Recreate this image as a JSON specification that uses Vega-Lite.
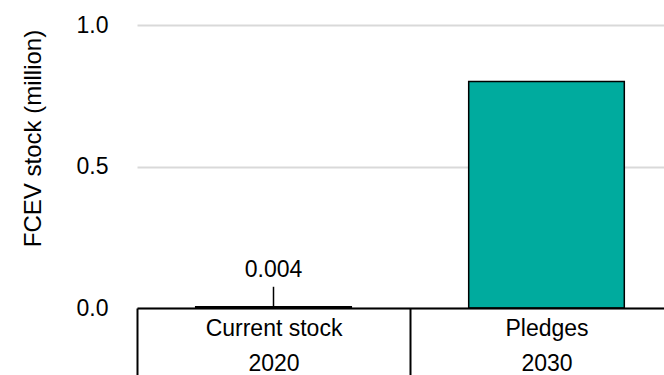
{
  "$schema": "https://vega.github.io/schema/vega-lite/v6.json",
  "width": 546,
  "height": 283,
  "autosize": {"type": "none"},
  "padding": {"left": 137, "top": 25, "right": 0, "bottom": 67},
  "background": "white",
  "config": {"view": {"stroke": null}, "font": "Liberation Sans"},
  "data": {
    "values": [
      {"period": "Current stock|2020", "value": 0.004, "note": "0.004"},
      {"period": "Pledges|2030", "value": 0.8}
    ]
  },
  "encoding": {
    "x": {
      "field": "period",
      "type": "nominal",
      "sort": null,
      "scale": {"paddingInner": 0, "paddingOuter": 0},
      "axis": {
        "title": null,
        "labelAngle": 0,
        "labelExpr": "split(datum.label, '|')",
        "labelFontSize": 23,
        "labelColor": "black",
        "labelLineHeight": 35,
        "labelBaseline": "top",
        "labelPadding": -61,
        "domainColor": "black",
        "domainWidth": 2,
        "ticks": true,
        "tickBand": "extent",
        "tickColor": "black",
        "tickWidth": 2,
        "tickSize": 70,
        "grid": false,
        "zindex": 1
      }
    }
  },
  "layer": [
    {
      "mark": {"type": "bar", "fill": "#00ab9e", "stroke": "black", "strokeWidth": 1.5, "width": {"band": 0.57}},
      "encoding": {
        "y": {
          "field": "value",
          "type": "quantitative",
          "scale": {"domain": [0, 1], "nice": false},
          "axis": {
            "title": "FCEV stock (million)",
            "titleFontSize": 24,
            "titleFontWeight": "normal",
            "titleColor": "black",
            "titleAngle": -90,
            "titleAlign": "center",
            "titleBaseline": "middle",
            "titleX": -104,
            "titleY": 113,
            "values": [0, 0.5, 1],
            "format": ".1f",
            "labelFontSize": 23,
            "labelColor": "black",
            "labelPadding": 29,
            "domain": false,
            "ticks": false,
            "gridColor": "#d9d9d9",
            "gridWidth": 2
          }
        }
      }
    },
    {
      "transform": [{"filter": "isValid(datum.note)"}],
      "mark": {"type": "rule", "color": "black", "strokeWidth": 1.5},
      "encoding": {
        "y": {"field": "value", "type": "quantitative"},
        "y2": {"datum": 0.075}
      }
    },
    {
      "transform": [{"filter": "isValid(datum.note)"}],
      "mark": {"type": "text", "fontSize": 23, "color": "black", "baseline": "alphabetic", "dy": -10},
      "encoding": {
        "y": {"datum": 0.075},
        "text": {"field": "note"}
      }
    }
  ]
}
